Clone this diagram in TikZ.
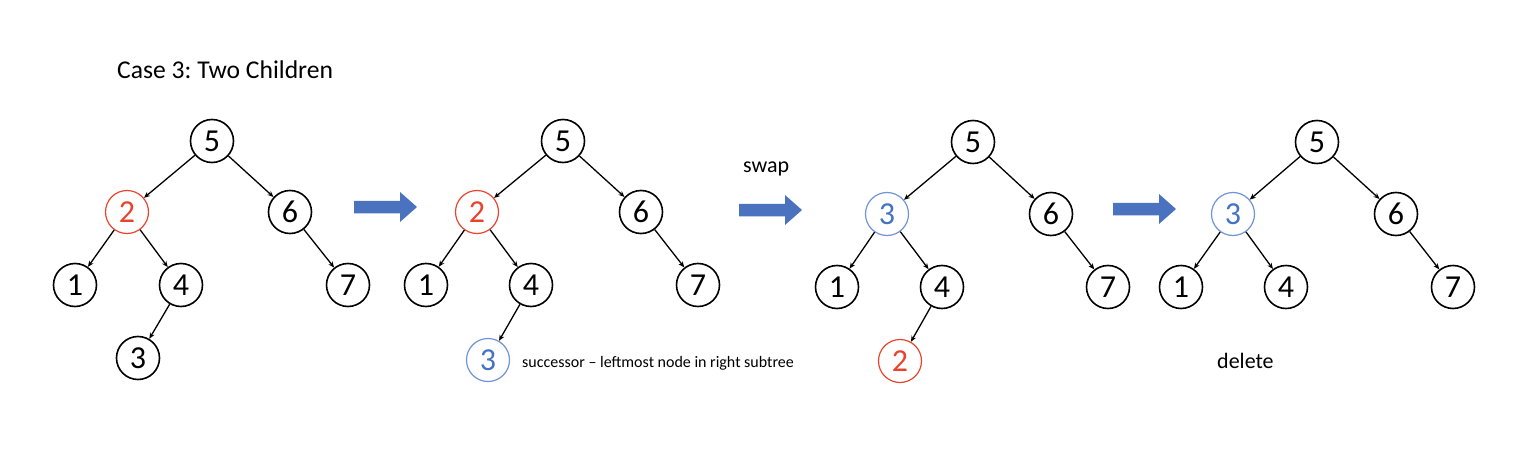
\documentclass[tikz,border=0pt]{standalone}
\usepackage{fontspec}
\setmainfont{Carlito}
\frenchspacing
\usetikzlibrary{arrows.meta}
\definecolor{redn}{HTML}{E8432F}
\definecolor{bluetxt}{HTML}{4472C4}
\definecolor{bluering}{HTML}{6E93D6}
\definecolor{arrowblue}{HTML}{4A72BF}
\tikzset{
  bst/.style={circle, draw=black, line width=1.6pt, minimum size=43pt, inner sep=0pt,
    font=\fontsize{32}{32}\selectfont},
  delnode/.style={bst, draw=redn, text=redn, line width=1.2pt},
  succnode/.style={bst, draw=bluering, text=bluetxt, line width=1.2pt},
  edge/.style={line width=1.3pt, -{Stealth[length=6pt, width=5pt]}},
  label/.style={inner sep=0pt, anchor=base west},
  blockarr/.style={fill=arrowblue},
}
\begin{document}
\begin{tikzpicture}[x=1pt, y=-1pt]
\useasboundingbox (0,0) rectangle (1534,460);

\node[label, font=\fontsize{25.6}{26}\selectfont] (title) at (117,78) {Case 3: Two Children};

% Tree 1
\node[bst] (t1n5) at (212,141) {5};
\node[delnode] (t1n2) at (127,212) {2};
\node[bst] (t1n6) at (290,212) {6};
\node[bst] (t1n1) at (75,285) {1};
\node[bst] (t1n4) at (181,285) {4};
\node[bst] (t1n7) at (348,285) {7};
\node[bst] (t1n3) at (138,358) {3};
\draw[edge] (t1n5) -- (t1n2);
\draw[edge] (t1n5) -- (t1n6);
\draw[edge] (t1n2) -- (t1n1);
\draw[edge] (t1n2) -- (t1n4);
\draw[edge] (t1n6) -- (t1n7);
\draw[edge] (t1n4) -- (t1n3);

% Arrow 1
\fill[blockarr, shift={(354,207)}] (0,-6.25) -- (46,-6.25) -- (46,-15) -- (63,0) -- (46,15) -- (46,6.25) -- (0,6.25) -- cycle;

% Tree 2
\node[bst] (t2n5) at (563,141) {5};
\node[delnode] (t2n2) at (477,212) {2};
\node[bst] (t2n6) at (641,212) {6};
\node[bst] (t2n1) at (426,285) {1};
\node[bst] (t2n4) at (531,285) {4};
\node[bst] (t2n7) at (698,285) {7};
\node[succnode] (t2n3) at (488,360) {3};
\draw[edge] (t2n5) -- (t2n2);
\draw[edge] (t2n5) -- (t2n6);
\draw[edge] (t2n2) -- (t2n1);
\draw[edge] (t2n2) -- (t2n4);
\draw[edge] (t2n6) -- (t2n7);
\draw[edge] (t2n4) -- (t2n3);
\node[label, font=\fontsize{16}{16}\selectfont] (succ) at (522,367) {successor – leftmost node in right subtree};

% Arrow 2
\node[label, font=\fontsize{22}{22}\selectfont] (swap) at (743,172) {swap};
\fill[blockarr, shift={(739,210)}] (0,-6.25) -- (46,-6.25) -- (46,-15) -- (63,0) -- (46,15) -- (46,6.25) -- (0,6.25) -- cycle;

% Tree 3
\node[bst] (t3n5) at (973,142) {5};
\node[succnode] (t3n3) at (887,214) {3};
\node[bst] (t3n6) at (1051,214) {6};
\node[bst] (t3n1) at (837,287) {1};
\node[bst] (t3n4) at (942,287) {4};
\node[bst] (t3n7) at (1108,287) {7};
\node[delnode] (t3n2) at (900,361) {2};
\draw[edge] (t3n5) -- (t3n3);
\draw[edge] (t3n5) -- (t3n6);
\draw[edge] (t3n3) -- (t3n1);
\draw[edge] (t3n3) -- (t3n4);
\draw[edge] (t3n6) -- (t3n7);
\draw[edge] (t3n4) -- (t3n2);

% Arrow 3
\fill[blockarr, shift={(1113,209)}] (0,-6.25) -- (46,-6.25) -- (46,-15) -- (63,0) -- (46,15) -- (46,6.25) -- (0,6.25) -- cycle;

% Tree 4
\node[bst] (t4n5) at (1317,142) {5};
\node[succnode] (t4n3) at (1233,214) {3};
\node[bst] (t4n6) at (1396,214) {6};
\node[bst] (t4n1) at (1181,287) {1};
\node[bst] (t4n4) at (1286,287) {4};
\node[bst] (t4n7) at (1453,287) {7};
\draw[edge] (t4n5) -- (t4n3);
\draw[edge] (t4n5) -- (t4n6);
\draw[edge] (t4n3) -- (t4n1);
\draw[edge] (t4n3) -- (t4n4);
\draw[edge] (t4n6) -- (t4n7);
\node[label, font=\fontsize{22}{22}\selectfont] (del) at (1217,368) {delete};
\end{tikzpicture}
\end{document}
